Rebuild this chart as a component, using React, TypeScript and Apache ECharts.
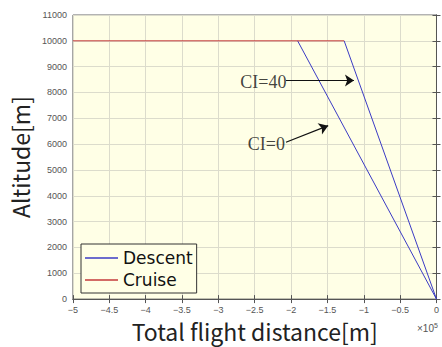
import React, { useEffect, useRef } from "react";
import * as echarts from "echarts";

// distances in units of 1e5 m
const cruiseX = [-5, -1.27];
const cruiseY = [10000, 10000];
const descentCI0X = [-1.91, 0];
const descentCI0Y = [10000, 0];
const descentCI40X = [-1.27, 0];
const descentCI40Y = [10000, 0];
const annotTexts = ["CI=40", "CI=0"];
const annotTextPos = [[-2.38, 8400], [-2.34, 6000]];
const arrowFrom = [[-2.07, 8460], [-2.07, 6075]];
const arrowTo = [[-1.135, 8460], [-1.49, 6715]];

const BLUE = "#3b3bc4";
const RED = "#c43a3a";
const BG = "#ffffe6";

export default function App() {
  const ref = useRef<HTMLDivElement>(null);
  useEffect(() => {
    if (!ref.current) return;
    const chart = echarts.init(ref.current, null, { renderer: "svg" });
    const fmt = (v: number) => (v < 0 ? "\u2212" + Math.abs(v) : String(v));
    const tickLabel = { color: "#555", fontSize: 9, fontFamily: "Liberation Sans" };
    chart.setOption({
      animation: false,
      grid: {
        left: 71, right: 1, top: 15, bottom: 47,
        show: true, backgroundColor: BG, borderColor: "#666", borderWidth: 1,
      },
      legend: {
        data: [
          { name: "Descent", itemStyle: { color: BLUE } },
          { name: "Cruise", itemStyle: { color: RED } },
        ],
        orient: "vertical",
        left: 81, top: 244,
        padding: [5, 4, 4, 4],
        icon: "rect",
        itemWidth: 33, itemHeight: 1.5, itemGap: 4,
        backgroundColor: BG, borderColor: "#333", borderWidth: 1,
        textStyle: { fontSize: 17, lineHeight: 18, color: "#111", fontFamily: "DejaVu Sans" },
      },
      xAxis: [
        {
          type: "value", min: -5, max: 0, interval: 0.5,
          name: "Total flight distance[m]", nameLocation: "middle", nameGap: 18,
          nameTextStyle: { fontSize: 23, color: "#222", fontFamily: "Noto Sans CJK JP" },
          axisLine: { lineStyle: { color: "#555" } },
          axisTick: { inside: true, length: 4, lineStyle: { color: "#555" } },
          axisLabel: { ...tickLabel, margin: 6, formatter: fmt },
          splitLine: { show: true, lineStyle: { color: "#dcdccc" } },
        },
        {
          type: "value", min: -5, max: 0, interval: 0.5, position: "top",
          axisLine: { show: true, lineStyle: { color: "#555" } },
          axisTick: { inside: true, length: 4, lineStyle: { color: "#555" } },
          axisLabel: { show: false }, splitLine: { show: false },
        },
      ],
      yAxis: [
        {
          type: "value", min: 0, max: 11000, interval: 1000,
          name: "Altitude[m]", nameLocation: "middle", nameGap: 40,
          nameTextStyle: { fontSize: 23, color: "#222", fontFamily: "Noto Sans CJK JP" },
          axisLine: { show: true, lineStyle: { color: "#555" } },
          axisTick: { show: true, inside: true, length: 4, lineStyle: { color: "#555" } },
          axisLabel: { ...tickLabel, margin: 6, formatter: (v: number) => String(v) },
          splitLine: { show: true, lineStyle: { color: "#dcdccc" } },
        },
        {
          type: "value", min: 0, max: 11000, interval: 1000, position: "right",
          axisLine: { show: true, lineStyle: { color: "#555" } },
          axisTick: { show: true, inside: true, length: 4, lineStyle: { color: "#555" } },
          axisLabel: { show: false }, splitLine: { show: false },
        },
      ],
      series: [
        {
          name: "Descent", type: "line", symbol: "none",
          lineStyle: { color: BLUE, width: 1 }, itemStyle: { color: BLUE },
          data: descentCI0X.map((x, i) => [x, descentCI0Y[i]]),
        },
        {
          name: "Descent", type: "line", symbol: "none",
          lineStyle: { color: BLUE, width: 1 }, itemStyle: { color: BLUE },
          data: descentCI40X.map((x, i) => [x, descentCI40Y[i]]),
        },
        {
          name: "Cruise", type: "line", symbol: "none",
          lineStyle: { color: RED, width: 1 }, itemStyle: { color: RED },
          data: cruiseX.map((x, i) => [x, cruiseY[i]]),
        },
        {
          name: "annot", type: "scatter", symbolSize: 1,
          itemStyle: { color: "rgba(0,0,0,0)" },
          label: {
            show: true, position: "inside",
            formatter: (p: any) => annotTexts[p.dataIndex],
            fontSize: 18, color: "#111", fontFamily: "Liberation Serif",
          },
          data: annotTextPos,
          markLine: {
            silent: true, symbol: ["none", "arrow"], symbolSize: 9,
            label: { show: false },
            lineStyle: { color: "#111", width: 1.2, type: "solid" },
            itemStyle: { color: "#111" },
            data: arrowFrom.map((f, i) => [{ coord: f }, { coord: arrowTo[i] }]),
          },
        },
      ],
      graphic: [
        {
          type: "text", left: 417, top: 322,
          style: {
            text: "×10{s|5}",
            fill: "#555", fontSize: 10, fontFamily: "Liberation Sans",
            rich: { s: { fontSize: 7, verticalAlign: "top", padding: [0, 0, 6, 0], fill: "#555" } },
          },
        },
      ],
    });
    return () => chart.dispose();
  }, []);
  return (
    <div
      ref={ref}
      style={{ position: "absolute", left: 0, top: 0, width: 442, height: 347 }}
    />
  );
}
